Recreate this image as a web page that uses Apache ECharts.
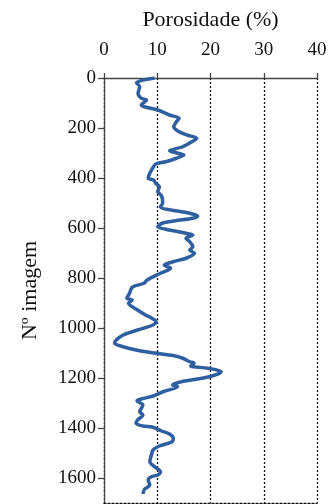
<!DOCTYPE html>
<html><head><meta charset="utf-8">
<script src="https://cdn.jsdelivr.net/npm/echarts@6/dist/echarts.min.js"></script>
<style>html,body{margin:0;padding:0;background:#fff}#c{width:331px;height:504px}</style>
</head><body><div id="c"></div>
<script>
const imageNo = [0,19,35,61,81,88,108,115,128,148,161,175,195,215,228,241,255,275,291,299,308,321,335,344,355,381,401,408,421,435,455,468,488,501,515,541,552,561,571,581,595,605,621,628,641,655,675,688,701,721,735,748,761,781,808,821,837,861,881,888,901,928,948,961,975,988,1008,1028,1048,1061,1075,1090,1100,1110,1121,1135,1141,1152,1161,1175,1195,1215,1228,1235,1255,1270,1285,1291,1308,1335,1348,1368,1381,1392,1397,1411,1424,1441,1455,1472,1488,1508,1535,1555,1575,1588,1595,1608,1628,1645,1664];
const porosity = [9.5,6.1,6.7,6.4,7.0,8.0,7.0,7.6,10.1,12.3,14.1,13.6,13.1,14.1,15.6,17.4,16.5,14.8,12.3,13.5,15.0,13.6,11.6,9.7,9.3,8.6,8.3,9.3,9.7,10.4,10.1,10.7,11.0,11.0,10.6,16.1,17.6,16.7,13.4,10.9,10.1,11.6,15.4,16.7,15.4,16.1,16.7,16.1,17.0,15.4,13.0,11.3,12.5,10.6,8.1,7.5,5.3,4.8,4.3,5.3,4.6,6.3,7.8,9.0,9.8,9.2,6.3,3.6,2.3,2.0,3.6,6.5,9.5,13.0,14.8,16.1,16.9,16.3,19.5,22.0,19.8,14.5,12.9,13.8,11.1,9.5,6.8,6.2,7.3,6.7,7.3,6.3,6.0,7.3,9.2,10.7,12.3,13.0,12.8,10.4,9.2,8.9,8.6,9.5,10.6,10.1,8.9,8.3,8.6,7.6,7.3];
const xTicks = [0,10,20,30,40];
const yTicks = [0,200,400,600,800,1000,1200,1400,1600];

const font = 'Liberation Serif';
const chart = echarts.init(document.getElementById('c'));
chart.setOption({
  animation: false,
  grid: {left: 104, right: 14, top: 78, bottom: 1},
  xAxis: [{
    type: 'value', position: 'top', min: 0, max: 40, interval: 10,
    name: 'Porosidade (%)', nameLocation: 'middle', nameGap: 47,
    nameTextStyle: {fontFamily: font, fontSize: 22, color: '#111'},
    axisLine: {show: true, lineStyle: {color: '#444', width: 1.3}},
    axisTick: {show: true, length: 5, customValues: xTicks, lineStyle: {color: '#444', width: 1.3}},
    axisLabel: {fontFamily: font, fontSize: 19, color: '#111', margin: 18, customValues: xTicks, formatter: v => String(v)},
    splitLine: {show: true, lineStyle: {color: '#111', type: [2, 2], width: 1.3}}
  }, {
    type: 'value', position: 'bottom', min: 0, max: 40, interval: 10,
    axisLine: {show: true, lineStyle: {color: '#111', type: [2, 2], width: 1.3}},
    axisTick: {show: false}, axisLabel: {show: false}, splitLine: {show: false}
  }],
  yAxis: {
    type: 'value', inverse: true, min: 0, max: 1700,
    name: 'Nº imagem', nameLocation: 'middle', nameGap: 63, nameRotate: 90,
    nameTextStyle: {fontFamily: font, fontSize: 22, color: '#111'},
    axisLine: {show: true, lineStyle: {color: '#444', width: 1.3}},
    axisTick: {show: true, length: 6, customValues: yTicks, lineStyle: {color: '#444', width: 1.3}},
    axisLabel: {fontFamily: font, fontSize: 19, color: '#111', margin: 8, customValues: yTicks, formatter: v => String(v)},
    splitLine: {show: false}
  },
  series: [{
    type: 'line', xAxisIndex: 0,
    data: imageNo.map((n, i) => [porosity[i], n]),
    showSymbol: false, smooth: 0.3,
    lineStyle: {color: '#2f5f9f', width: 3.5}
  }]
});
</script></body></html>
